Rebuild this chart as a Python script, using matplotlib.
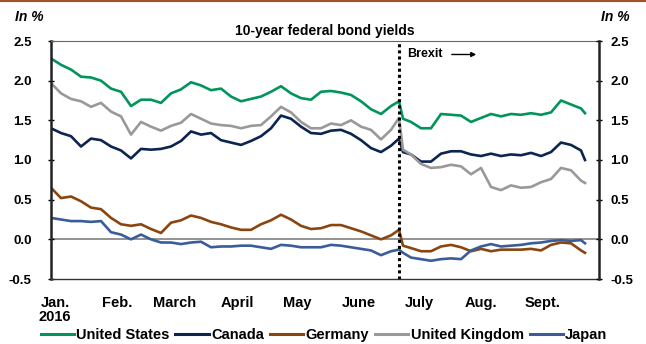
import numpy as np
import pandas as pd
import matplotlib
matplotlib.use('Agg')
import matplotlib.pyplot as plt
from matplotlib.lines import Line2D

plt.rcParams['font.family'] = ['Liberation Sans', 'DejaVu Sans']
plt.rcParams['font.weight'] = 'bold'

# =========================
# Data (daily yields, in %)
# =========================
day_offsets = [0, 5, 10, 15, 20, 25, 30, 35, 40, 45, 50, 55, 60, 65, 70, 75, 80, 85,
               90, 95, 100, 105, 110, 115, 120, 125, 130, 135, 140, 145, 150, 155,
               160, 165, 170, 174, 176, 180, 185, 190, 195, 200, 205, 210, 215, 220,
               225, 230, 235, 240, 245, 250, 255, 260, 265, 267]

united_states = [2.28, 2.20, 2.14, 2.05, 2.04, 2.00, 1.90, 1.86, 1.68, 1.76, 1.76, 1.72,
                 1.84, 1.89, 1.98, 1.94, 1.88, 1.90, 1.80, 1.74, 1.77, 1.80, 1.86, 1.93,
                 1.84, 1.78, 1.76, 1.86, 1.87, 1.85, 1.82, 1.74, 1.64, 1.58, 1.68, 1.74,
                 1.52, 1.48, 1.40, 1.40, 1.58, 1.57, 1.56, 1.48, 1.53, 1.58, 1.55, 1.58,
                 1.57, 1.59, 1.57, 1.60, 1.75, 1.70, 1.65, 1.59]

canada = [1.40, 1.34, 1.30, 1.17, 1.27, 1.25, 1.17, 1.12, 1.02, 1.14, 1.13, 1.14,
          1.17, 1.24, 1.36, 1.32, 1.34, 1.25, 1.22, 1.19, 1.24, 1.30, 1.40, 1.56,
          1.52, 1.42, 1.34, 1.33, 1.37, 1.38, 1.33, 1.25, 1.15, 1.10, 1.18, 1.27,
          1.10, 1.07, 0.98, 0.98, 1.08, 1.11, 1.11, 1.07, 1.05, 1.08, 1.05, 1.07,
          1.06, 1.09, 1.05, 1.10, 1.22, 1.19, 1.12, 1.00]

germany = [0.65, 0.52, 0.54, 0.48, 0.40, 0.38, 0.27, 0.19, 0.17, 0.19, 0.13, 0.08,
           0.21, 0.24, 0.30, 0.27, 0.22, 0.19, 0.15, 0.12, 0.12, 0.19, 0.24, 0.31,
           0.25, 0.17, 0.13, 0.14, 0.18, 0.18, 0.14, 0.10, 0.05, 0.00, 0.05, 0.12,
           -0.08, -0.11, -0.15, -0.15, -0.09, -0.07, -0.10, -0.15, -0.12, -0.15, -0.13, -0.13,
           -0.13, -0.12, -0.14, -0.07, -0.04, -0.05, -0.14, -0.17]

united_kingdom = [1.97, 1.84, 1.77, 1.74, 1.67, 1.72, 1.61, 1.55, 1.32, 1.48, 1.42, 1.37,
                  1.43, 1.47, 1.58, 1.52, 1.46, 1.44, 1.43, 1.40, 1.43, 1.44, 1.55, 1.67,
                  1.60, 1.48, 1.40, 1.40, 1.46, 1.44, 1.50, 1.42, 1.38, 1.26, 1.38, 1.53,
                  1.13, 1.07, 0.95, 0.90, 0.91, 0.94, 0.92, 0.82, 0.90, 0.66, 0.62, 0.68,
                  0.65, 0.66, 0.72, 0.76, 0.90, 0.87, 0.74, 0.71]

japan = [0.27, 0.25, 0.23, 0.23, 0.22, 0.23, 0.09, 0.06, 0.00, 0.06, 0.00, -0.04,
         -0.04, -0.06, -0.04, -0.03, -0.10, -0.09, -0.09, -0.08, -0.08, -0.10, -0.12, -0.07,
         -0.08, -0.10, -0.10, -0.10, -0.07, -0.08, -0.10, -0.12, -0.14, -0.20, -0.15, -0.13,
         -0.17, -0.23, -0.25, -0.27, -0.25, -0.24, -0.25, -0.14, -0.09, -0.06, -0.09, -0.08,
         -0.07, -0.05, -0.04, -0.02, -0.01, -0.02, -0.01, -0.05]

series_names = ['United States', 'Canada', 'Germany', 'United Kingdom', 'Japan']
series_colors = ['#00955A', '#0B2450', '#8B4510', '#999999', '#3A5C99']

month_labels = ['Jan.\n2016', 'Feb.', 'March', 'April', 'May', 'June', 'July', 'Aug.', 'Sept.']
month_starts = ['2016-01-01', '2016-02-01', '2016-03-01', '2016-04-01', '2016-05-01',
                '2016-06-01', '2016-07-01', '2016-08-01', '2016-09-01']
brexit_date = '2016-06-23'

dates = pd.Timestamp('2016-01-01') + pd.to_timedelta(day_offsets, unit='D')

# =========================
# Figure
# =========================
fig = plt.figure(figsize=(6.46, 3.44), dpi=100)
ax = fig.add_axes([51/646, 1 - 279/344, 548/646, 238/344])

all_series = [united_states, canada, germany, united_kingdom, japan]
for vals, name, col in zip(all_series, series_names, series_colors):
    ax.plot(dates, vals, color=col, lw=1.9, label=name, solid_joinstyle='round')

ax.axhline(0, color='#808080', lw=1.2, zorder=0)
ax.axvline(pd.Timestamp(brexit_date), color='black', lw=2.2, ls=(0, (1, 1)), zorder=5)

ax.set_xlim(pd.Timestamp('2016-01-01'), pd.Timestamp('2016-10-01'))
ax.set_ylim(-0.5, 2.5)
yt = np.arange(-0.5, 2.51, 0.5)
ax.set_yticks(yt)
ax.set_yticklabels(['%.1f' % v for v in yt])

tick_pos = pd.to_datetime(month_starts) + pd.Timedelta(days=2)
ax.set_xticks(tick_pos)
ax.set_xticklabels(month_labels, linespacing=1.0)
ax.tick_params(axis='x', length=0, pad=12, labelsize=10.5)
ax.tick_params(axis='y', direction='inout', length=5, width=1, pad=11.5, labelsize=9.5)

ax.spines['left'].set_linewidth(1.8)
ax.spines['left'].set_color('#222222')
ax.spines['top'].set_linewidth(0.8)
ax.spines['top'].set_color('#666666')
ax.spines['bottom'].set_linewidth(1.0)
ax.spines['bottom'].set_color('#333333')
ax.spines['right'].set_visible(False)

ax2 = ax.twinx()
ax2.set_ylim(ax.get_ylim())
ax2.set_yticks(yt)
ax2.set_yticklabels(['%.1f' % v for v in yt])
ax2.tick_params(axis='y', direction='inout', length=5, width=1, pad=5.5, labelsize=9.5)
ax2.spines['right'].set_linewidth(1.8)
ax2.spines['right'].set_color('#222222')
for side in ['left', 'top', 'bottom']:
    ax2.spines[side].set_visible(False)

ax.set_title('10-year federal bond yields', fontsize=10, fontweight='bold', pad=4)

fig.text(15/646, 1 - 17/344, 'In %', fontsize=10, fontstyle='italic', fontweight='bold',
         va='center', ha='left')
fig.text(630/646, 1 - 17/344, 'In %', fontsize=10, fontstyle='italic', fontweight='bold',
         va='center', ha='right')

ax.annotate('', xy=(pd.Timestamp('2016-08-02'), 2.33), xytext=(pd.Timestamp('2016-07-18'), 2.33),
            arrowprops=dict(arrowstyle='-|>', color='black', lw=1, mutation_scale=7))
ax.text(pd.Timestamp('2016-06-27'), 2.33, 'Brexit', fontsize=9, fontweight='bold',
        va='center', ha='left')

leg = fig.legend(loc='center', bbox_to_anchor=(324/646, 1 - 335/344), ncol=5, frameon=False,
                 fontsize=10.5, handlelength=2.3, handletextpad=0.15, columnspacing=0.4)
for h in leg.get_lines():
    h.set_linewidth(2.2)

fig.add_artist(Line2D([0, 1], [1 - 1/344, 1 - 1/344], color='#A0522D', lw=1.5))

fig.savefig('out.png', dpi=100)
